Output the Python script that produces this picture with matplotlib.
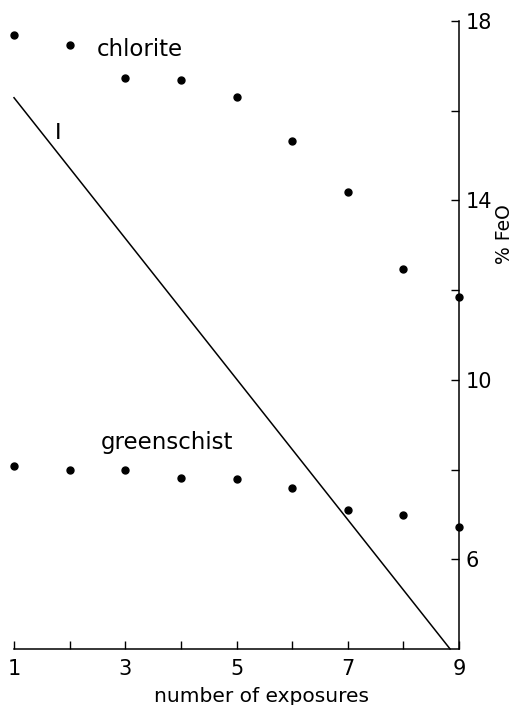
import matplotlib
matplotlib.use("Agg")
import matplotlib.pyplot as plt
from matplotlib.ticker import FixedLocator

exposures = [1, 2, 3, 4, 5, 6, 7, 8, 9]
chlorite = [17.69, 17.47, 16.73, 16.69, 16.31, 15.33, 14.18, 12.47, 11.84]
greenschist = [8.07, 7.98, 7.98, 7.82, 7.80, 7.58, 7.09, 6.98, 6.71]
line_x = [1.0, 8.84]
line_y = [16.29, 4.0]

x_major = [1, 3, 5, 7, 9]
x_minor = [2, 4, 6, 8]
y_major = [6, 10, 14, 18]
y_minor = [8, 12, 16]

plt.rcParams['font.family'] = ['DejaVu Sans']

fig = plt.figure(figsize=(5.16, 7.05), dpi=100)
ax = fig.add_axes([14/516, 1-649/705, (459-14)/516, (649-21)/705])

ax.plot(line_x, line_y, color='black', lw=1.1, clip_on=False)
ax.plot(exposures, chlorite, 'o', color='black', ms=5, clip_on=False)
ax.plot(exposures, greenschist, 'o', color='black', ms=5, clip_on=False)

ax.set_xlim(1, 9)
ax.set_ylim(4, 18)

for s in ['left', 'top']:
    ax.spines[s].set_visible(False)
ax.spines['bottom'].set_linewidth(1.1)
ax.spines['right'].set_linewidth(1.1)

ax.yaxis.tick_right()
ax.xaxis.set_major_locator(FixedLocator(x_major))
ax.xaxis.set_minor_locator(FixedLocator(x_minor))
ax.yaxis.set_major_locator(FixedLocator(y_major))
ax.yaxis.set_minor_locator(FixedLocator(y_minor))
ax.set_xticklabels([str(v) for v in x_major])
ax.set_yticklabels([str(v) for v in y_major])

ax.tick_params(axis='x', which='both', direction='in', length=6, width=1, labelsize=15, pad=7)
ax.tick_params(axis='y', which='both', direction='in', length=6, width=1, labelsize=15, pad=5,
               left=False, right=True, labelleft=False, labelright=True)

ax.text(3.27, 17.36, 'chlorite', fontsize=16.5, ha='center', va='center')
ax.text(3.75, 8.6, 'greenschist', fontsize=16.5, ha='center', va='center')
ax.text(1.79, 15.51, 'I', fontsize=16, ha='center', va='center')

fig.text(262/516, 1-697/705, 'number of exposures', fontsize=14.5, ha='center', va='center')
fig.text(505/516, 1-234/705, '% FeO', fontsize=13.5, ha='center', va='center', rotation=90)

fig.savefig('out.png', dpi=100)
